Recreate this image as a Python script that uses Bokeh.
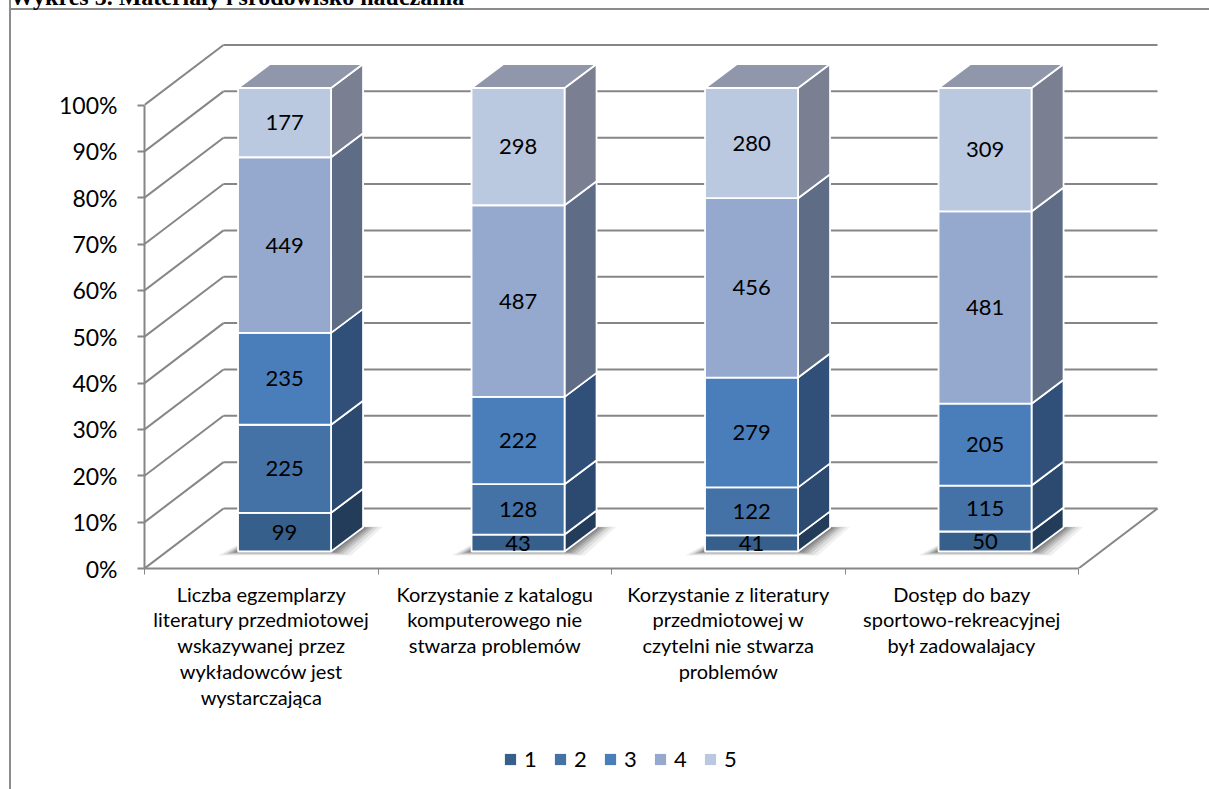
from bokeh.plotting import figure
from bokeh.layouts import column
from bokeh.embed import file_html
from bokeh.resources import INLINE
from bokeh.core.properties import value
from bokeh.models import (Div, FixedTicker, Legend, LegendItem, LinearAxis, PrintfTickFormatter)
import numpy as np

TITLE = "Wykres 5. Materiały i środowisko nauczania"
categories = [
    "Liczba egzemplarzy\nliteratury przedmiotowej\nwskazywanej przez\nwykładowców jest\nwystarczająca",
    "Korzystanie z katalogu\nkomputerowego nie\nstwarza problemów",
    "Korzystanie z literatury\nprzedmiotowej w\nczytelni nie stwarza\nproblemów",
    "Dostęp do bazy\nsportowo-rekreacyjnej\nbył zadowalajacy",
]
series_names = ["1", "2", "3", "4", "5"]
s1 = [99, 43, 41, 50]
s2 = [225, 128, 122, 115]
s3 = [235, 222, 279, 205]
s4 = [449, 487, 456, 481]
s5 = [177, 298, 280, 309]
front_colors = ["#375F8C", "#4471A6", "#4A7EBB", "#95A9CF", "#BAC8E0"]
side_colors = ["#233C5A", "#2C4A70", "#305079", "#5E6C86", "#7A8092"]
top_color = "#9197AB"
line_color = "#868686"
FONT = "Lato"

W, H = 1209, 789
LEFT, BOTTOM = 144, 568
LEGEND_H = 59
PX_X, PX_Y = 233.5, 4.635          # pixels per category, per percent
wall_dx, wall_dy = 79 / PX_X, 60 / PX_Y
bar_w = 93 / PX_X
shift_x, shift_y = 23.3 / PX_X, 17 / PX_Y
side_dx, side_dy = 32 / PX_X, 24 / PX_Y
n = len(categories)

border = "#8c8c8c"
left_edge = f"linear-gradient({border},{border}) 9px 0 / 2px 100% no-repeat"
top_edge = f"linear-gradient({border},{border}) 9px 8px / 100% 2px no-repeat"

p = figure(frame_width=W - LEFT, frame_height=BOTTOM, output_backend="svg", toolbar_location=None,
           x_range=(0, (W - LEFT) / PX_X), y_range=(0, BOTTOM / PX_Y),
           x_axis_type=None, y_axis_type=None,
           min_border_left=LEFT, min_border_right=0, min_border_top=0,
           min_border_bottom=H - BOTTOM - LEGEND_H,
           background_fill_color=None, border_fill_color=None, outline_line_color=None,
           styles={"background": f"{top_edge}, {left_edge}, white"})
p.grid.visible = False

# y axis
yaxis = LinearAxis(ticker=FixedTicker(ticks=list(range(0, 101, 10))),
                   formatter=PrintfTickFormatter(format="%d%%"), bounds=(0, 100))
yaxis.axis_line_color = line_color
yaxis.axis_line_width = 2
yaxis.major_tick_line_color = line_color
yaxis.major_tick_line_width = 2
yaxis.major_tick_out = 7
yaxis.major_tick_in = 0
yaxis.minor_tick_out = 0
yaxis.minor_tick_in = 0
yaxis.major_label_standoff = 20
yaxis.major_label_text_font = FONT
yaxis.major_label_text_font_size = "23px"
yaxis.major_label_text_color = "black"
p.add_layout(yaxis, "left")

# x axis
xaxis = LinearAxis(ticker=FixedTicker(ticks=[i + 0.5 for i in range(n)], minor_ticks=list(range(n + 1))),
                   bounds=(0, n),
                   major_label_overrides={i + 0.5: c for i, c in enumerate(categories)})
xaxis.axis_line_color = line_color
xaxis.axis_line_width = 2
xaxis.major_tick_out = 0
xaxis.major_tick_in = 0
xaxis.minor_tick_line_color = line_color
xaxis.minor_tick_line_width = 1
xaxis.minor_tick_out = 6
xaxis.minor_tick_in = 0
xaxis.major_label_standoff = 7
xaxis.major_label_text_font = FONT
xaxis.major_label_text_font_size = "20px"
xaxis.major_label_text_color = "black"
xaxis.major_label_text_line_height = 1.08
p.add_layout(xaxis, "below")

# walls
ticks = np.arange(0, 101, 10)
p.segment(x0=[wall_dx] * len(ticks), y0=ticks + wall_dy, x1=[n + wall_dx] * len(ticks), y1=ticks + wall_dy,
          line_color=line_color, line_width=2)
p.segment(x0=[0] * len(ticks), y0=ticks, x1=[wall_dx] * len(ticks), y1=ticks + wall_dy,
          line_color=line_color, line_width=2)
p.segment(x0=[n], y0=[0], x1=[n + wall_dx], y1=[wall_dy], line_color=line_color, line_width=2)

matrix = np.array([s1, s2, s3, s4, s5], dtype=float)
pct = matrix / matrix.sum(axis=0) * 100
cum = np.vstack([np.zeros(n), np.cumsum(pct, axis=0)])
xc = np.arange(n) + 0.5 + shift_x
xl, xr = xc - bar_w / 2, xc + bar_w / 2

# floor shadow: stacked translucent parallelograms
for e, a in [(20, .06), (16, .08), (12, .10), (9, .12), (6, .14), (3, .16), (1, .18)]:
    ex = e / PX_X
    ey = e * 0.2 / PX_Y
    xs, ys = [], []
    for i in range(n):
        xs.append([xl[i] - ex, xr[i] + ex, xr[i] + side_dx + ex, xl[i] + side_dx])
        ys.append([shift_y - ey, shift_y - ey, shift_y + side_dy + 0.2 * ey, shift_y + side_dy + 0.2 * ey])
    p.patches(xs, ys, fill_color="black", fill_alpha=a, line_color=None)

# side faces, top faces, front faces
for k in range(5):
    lo, hi = cum[k] + shift_y, cum[k + 1] + shift_y
    xs = [[xr[i], xr[i] + side_dx, xr[i] + side_dx, xr[i]] for i in range(n)]
    ys = [[lo[i], lo[i] + side_dy, hi[i] + side_dy, hi[i]] for i in range(n)]
    p.patches(xs, ys, fill_color=side_colors[k], line_color="white", line_width=1.8)
    p.vbar(x=xc, width=bar_w, bottom=lo, top=hi, fill_color=front_colors[k],
           line_color="white", line_width=1.8)

topy = cum[5] + shift_y
p.patches([[xl[i], xr[i], xr[i] + side_dx, xl[i] + side_dx] for i in range(n)],
          [[topy[i], topy[i], topy[i] + side_dy, topy[i] + side_dy] for i in range(n)],
          fill_color=top_color, line_color="white", line_width=1.8)

# data labels
lx, ly, lt = [], [], []
for k in range(5):
    for i in range(n):
        lx.append(xc[i])
        ly.append((cum[k, i] + cum[k + 1, i]) / 2 + shift_y)
        lt.append(str(int(matrix[k, i])))
p.text(x=lx, y=ly, text=lt, text_align="center", text_baseline="middle",
       text_font=value(FONT), text_font_size="22px", text_color="black")

# legend strip: its keys lie outside the strip's visible range
q = figure(frame_width=W, frame_height=LEGEND_H, output_backend="svg", toolbar_location=None,
           x_range=(0, 1), y_range=(0, 1), x_axis_type=None, y_axis_type=None,
           min_border=0, background_fill_color=None, border_fill_color=None, outline_line_color=None,
           styles={"background": f"{left_edge}, white"})
q.grid.visible = False
swatches = [q.vbar(x=[-5], width=0.1, bottom=[-5], top=[-4], fill_color=c, line_color=None) for c in front_colors]
legend = Legend(items=[LegendItem(label=s, renderers=[r]) for s, r in zip(series_names, swatches)],
                orientation="horizontal", location=(503, 17), border_line_color=None,
                background_fill_color=None, label_text_font=FONT, label_text_font_size="22px",
                label_text_color="black", glyph_width=14, glyph_height=14, label_standoff=7,
                spacing=9, padding=0, margin=0)
q.add_layout(legend)

heading = Div(text=TITLE, width=700, height=30,
              styles={"position": "absolute", "left": "5px", "top": "-21px", "z-index": "5",
                      "font": "bold 24px 'Liberation Serif'", "color": "black", "white-space": "nowrap"})

root = column(heading, p, q, spacing=0)
open("out.html", "w").write(file_html(root, INLINE))
